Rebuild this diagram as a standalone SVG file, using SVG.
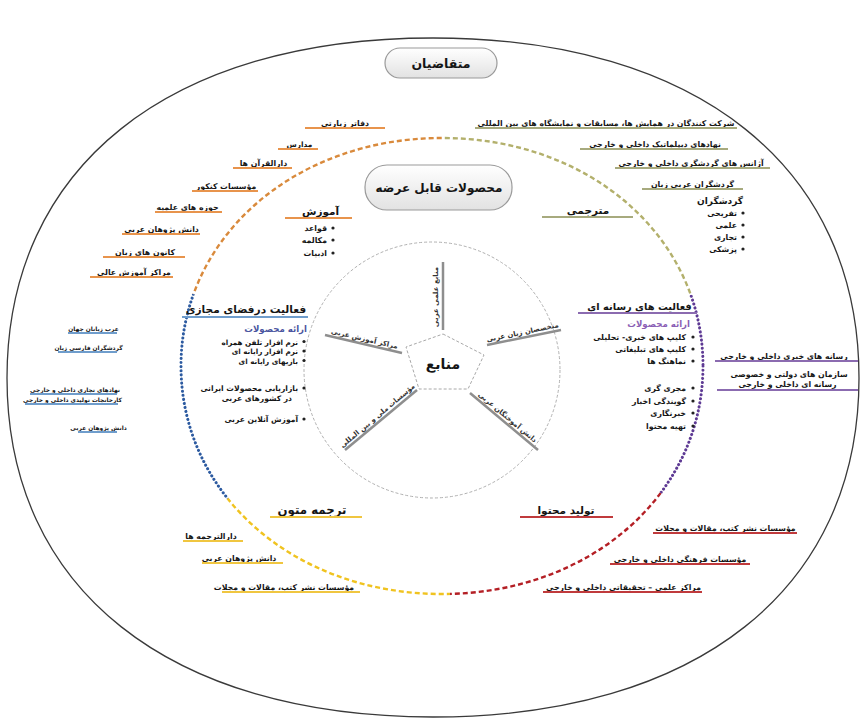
<svg xmlns="http://www.w3.org/2000/svg" width="862" height="720" viewBox="0 0 862 720">
<defs>
<linearGradient id="pill" x1="0" y1="0" x2="0" y2="1">
<stop offset="0" stop-color="#ffffff"/>
<stop offset="1" stop-color="#e2e2e2"/>
</linearGradient>
<clipPath id="cO"><polygon points="442,366 -582,70 442,-546"/></clipPath>
<clipPath id="cG"><polygon points="442,366 442,-546 1478,70"/></clipPath>
<clipPath id="cP"><polygon points="442,366 1478,70 1282,854"/></clipPath>
<clipPath id="cR"><polygon points="442,366 1282,854 474,1278"/></clipPath>
<clipPath id="cY"><polygon points="442,366 474,1278 -426,902"/></clipPath>
<clipPath id="cB"><polygon points="442,366 -426,902 -582,70"/></clipPath>
<path id="mid" d="M703,366 C703,494.8 589.5,594 442,594 C294.5,594 181,494.8 181,366 C181,237.2 294.5,138 442,138 C589.5,138 703,237.2 703,366 Z"/>
</defs>
<style>
text{font-family:'DejaVu Sans',sans-serif;fill:#151515}
.s{font-size:7.8px;font-weight:bold}
.t{font-size:5.9px;font-weight:bold}
.sp8{font-size:7px;font-weight:bold;fill:#333}
.h{font-size:10.5px;font-weight:bold}
.m{text-anchor:middle}
.e{text-anchor:end}
.ul{stroke-width:2;fill:none}
.or{stroke:#e8944c}
.ol{stroke:#a7aa7e}
.pu{stroke:#8b6bb0}
.bl{stroke:#6f9dcc}
.rd{stroke:#c03a3c}
.ye{stroke:#f0c640}
.bu{fill:#222}
.sp{stroke:#8e8e8e;stroke-width:2.5}
.pillr{fill:url(#pill);stroke:#9a9a9a;stroke-width:1.2}
</style>
<rect width="862" height="720" fill="#ffffff"/>

<g id="outer">
<path d="M859,378 C859,589 697,717 433,717 C169,717 7,589 7,378 C7,167 169,38 433,38 C697,38 859,167 859,378 Z" fill="none" stroke="#3a3a3a" stroke-width="1.3"/>
</g>

<g id="connectors">
<use href="#mid" clip-path="url(#cO)" fill="none" stroke="#d98a3c" stroke-width="2.4" stroke-dasharray="5,3"/>
<use href="#mid" clip-path="url(#cG)" fill="none" stroke="#b3b06c" stroke-width="2.4" stroke-dasharray="5,3"/>
<use href="#mid" clip-path="url(#cP)" fill="none" stroke="#5e3a94" stroke-width="3" stroke-dasharray="0.1,4" stroke-linecap="round"/>
<use href="#mid" clip-path="url(#cR)" fill="none" stroke="#b41f25" stroke-width="2.4" stroke-dasharray="5,3"/>
<use href="#mid" clip-path="url(#cY)" fill="none" stroke="#f0c320" stroke-width="2.4" stroke-dasharray="5,3"/>
<use href="#mid" clip-path="url(#cB)" fill="none" stroke="#2c5aa0" stroke-width="3" stroke-dasharray="0.1,4" stroke-linecap="round"/>
<circle cx="432" cy="370" r="128" fill="none" stroke="#b0b0b0" stroke-width="1" stroke-dasharray="3,2"/>
<line class="sp" x1="443" y1="262" x2="443" y2="330"/>
<line class="sp" x1="487" y1="345" x2="561" y2="330"/>
<line class="sp" x1="470" y1="393" x2="538" y2="450"/>
<line class="sp" x1="417" y1="390" x2="345" y2="450"/>
<line class="sp" x1="325" y1="335" x2="402" y2="353"/>
</g>

<g id="motaghazian">
<rect class="pillr" x="385" y="48" width="112" height="30" rx="15"/>
<text class="m" x="441" y="68" font-size="12.5" font-weight="bold">متقاضیان</text>
</g>

<g id="mahsoolat">
<rect class="pillr" x="365" y="165" width="147" height="45" rx="22"/>
<text class="m" x="439" y="192" font-size="12" font-weight="bold">محصولات قابل عرضه</text>
</g>

<g id="manabe">
<polygon points="443,334 484,355 468,389 419,389 406,347" fill="#ffffff" stroke="#a8a8a8" stroke-width="1" stroke-dasharray="3,2"/>
<text class="m" x="443" y="369" font-size="14" font-weight="bold">منابع</text>
</g>

<g id="spoke-labels">
<text class="m sp8" transform="translate(438,297) rotate(-90)">منابع علمی عربی</text>
<text class="m sp8" transform="translate(523,334.5) rotate(-11.5)">متخصصان زبان عربی</text>
<text class="m sp8" transform="translate(506,419) rotate(40)">دانش آموختگان عربی</text>
<text class="m sp8" transform="translate(379,417.5) rotate(-40)">مؤسسات ملی و بین المللی</text>
<text class="m sp8" transform="translate(364,341) rotate(13)">مراکز آموزش عربی</text>
</g>

<g id="amoozesh">
<text class="m h" x="320.5" y="215">آموزش</text>
<line class="ul or" x1="285" y1="218" x2="352" y2="218"/>
<circle class="bu" cx="333" cy="228" r="1.6"/><text class="s e" x="327" y="231">قواعد</text>
<circle class="bu" cx="333" cy="240" r="1.6"/><text class="s e" x="327" y="243">مکالمه</text>
<circle class="bu" cx="333" cy="253" r="1.6"/><text class="s e" x="327" y="256">ادبیات</text>
</g>

<g id="amoozesh-demand">
<text class="s m" x="345" y="125.5">دفاتر زیارتی</text>
<line class="ul or" x1="305" y1="128" x2="385" y2="128"/>
<text class="s m" x="299.5" y="146.5" style="font-size:7.4px">مدارس</text>
<line class="ul or" x1="278" y1="149" x2="318" y2="149"/>
<text class="s m" x="263.5" y="165.5">دارالقرآن ها</text>
<line class="ul or" x1="233" y1="168" x2="292" y2="168"/>
<text class="s m" x="226" y="188.5">مؤسسات کنکور</text>
<line class="ul or" x1="192" y1="191" x2="258" y2="191"/>
<text class="s m" x="187.5" y="209.5">حوزه های علمیه</text>
<line class="ul or" x1="155" y1="212" x2="222" y2="212"/>
<text class="s m" x="161.5" y="231.5">دانش پژوهان عربی</text>
<line class="ul or" x1="122" y1="234" x2="200" y2="234"/>
<text class="s m" x="145" y="254.5">کانون های زبان</text>
<line class="ul or" x1="103" y1="257" x2="185" y2="257"/>
<text class="s m" x="134" y="274.5">مراکز آموزش عالی</text>
<line class="ul or" x1="90" y1="277" x2="173" y2="277"/>
</g>

<g id="motarjemi">
<text class="m h" x="588" y="214">مترجمی</text>
<line class="ul ol" x1="542" y1="217" x2="633" y2="217"/>
</g>

<g id="motarjemi-demand">
<text class="s m" x="606" y="125.5">شرکت کنندگان در همایش ها، مسابقات و نمایشگاه های بین المللی</text>
<line class="ul ol" x1="475" y1="128" x2="737" y2="128"/>
<text class="s m" x="655" y="146.5">نهادهای دیپلماتیک  داخلی و خارجی</text>
<line class="ul ol" x1="580" y1="149" x2="728" y2="149"/>
<text class="s m" x="691" y="165.5">آژانس های گردشگری داخلی و خارجی</text>
<line class="ul ol" x1="615" y1="168" x2="770" y2="168"/>
<text class="s m" x="692.5" y="186.5">گردشگران عربی زبان</text>
<line class="ul ol" x1="642" y1="189" x2="743" y2="189"/>
<text class="e" x="743" y="203.5" font-size="9" font-weight="bold">گردشگران</text>
<circle class="bu" cx="743" cy="213" r="1.6"/><text class="s e" x="737" y="216">تفریحی</text>
<circle class="bu" cx="743" cy="225" r="1.6"/><text class="s e" x="737" y="228">علمی</text>
<circle class="bu" cx="743" cy="237" r="1.6"/><text class="s e" x="737" y="240">تجاری</text>
<circle class="bu" cx="743" cy="249" r="1.6"/><text class="s e" x="737" y="252">پزشکی</text>
</g>

<g id="resane">
<text class="m h" x="639.5" y="310" style="font-size:9.8px">فعالیت های رسانه ای</text>
<line class="ul pu" x1="578" y1="313" x2="697" y2="313"/>
<text class="e" x="690" y="327" font-size="8.6" font-weight="bold" style="fill:#8b5fb5">ارائه محصولات</text>
<circle class="bu" cx="693" cy="337" r="1.6"/><text class="s e" x="686" y="340">کلیپ های خبری- تحلیلی</text>
<circle class="bu" cx="693" cy="349" r="1.6"/><text class="s e" x="686" y="352">کلیپ های تبلیغاتی</text>
<circle class="bu" cx="693" cy="361" r="1.6"/><text class="s e" x="686" y="364">نماهنگ ها</text>
<circle class="bu" cx="693" cy="388" r="1.6"/><text class="s e" x="686" y="391">مجری گری</text>
<circle class="bu" cx="693" cy="401" r="1.6"/><text class="s e" x="686" y="404">گویندگی اخبار</text>
<circle class="bu" cx="693" cy="413" r="1.6"/><text class="s e" x="686" y="416">خبرنگاری</text>
<circle class="bu" cx="693" cy="426" r="1.6"/><text class="s e" x="686" y="429">تهیه محتوا</text>
</g>

<g id="resane-demand">
<text class="s m" x="784" y="358.5">رسانه های خبری داخلی و خارجی</text>
<line class="ul pu" x1="715" y1="361" x2="858" y2="361"/>
<text class="s m" x="789" y="377">سازمان های دولتی و خصوصی</text>
<text class="s m" x="787.5" y="387">رسانه ای داخلی و خارجی</text>
<line class="ul pu" x1="717" y1="390" x2="858" y2="390"/>
</g>

<g id="majazi">
<text class="m h" x="246" y="313" style="font-size:10.6px">فعالیت درفضای مجازی</text>
<line class="ul bl" x1="182" y1="317" x2="308" y2="317"/>
<text class="e" x="307" y="332" font-size="8.6" font-weight="bold" style="fill:#4b56a0">ارائه محصولات</text>
<circle class="bu" cx="304" cy="341.5" r="1.6"/><text class="e" font-size="7.2" font-weight="bold" x="298" y="344.5">نرم افزار تلفن همراه</text>
<circle class="bu" cx="304" cy="351" r="1.6"/><text class="e" font-size="7.2" font-weight="bold" x="298" y="354">نرم افزار رایانه ای</text>
<circle class="bu" cx="304" cy="360.5" r="1.6"/><text class="e" font-size="7.2" font-weight="bold" x="298" y="363.5">بازیهای رایانه ای</text>
<circle class="bu" cx="304" cy="388" r="1.6"/><text class="e" font-size="7.6" font-weight="bold" x="298" y="391">بازاریابی محصولات ایرانی</text>
<text class="e" font-size="7.6" font-weight="bold" x="292" y="400.5">در کشورهای عربی</text>
<circle class="bu" cx="304" cy="419" r="1.6"/><text class="e" font-size="7.6" font-weight="bold" x="298" y="422">آموزش آنلاین عربی</text>
</g>

<g id="majazi-demand">
<text class="t m" x="93.5" y="331">عرب زبانان جهان</text>
<line class="ul bl" x1="68" y1="333" x2="117" y2="333"/>
<text class="t m" x="88.5" y="350">گردشگران فارسی زبان</text>
<line class="ul bl" x1="58" y1="352" x2="117" y2="352"/>
<text class="t m" x="75" y="392">نهادهای تجاری داخلی و خارجی</text>
<line class="ul bl" x1="30" y1="394" x2="117" y2="394"/>
<text class="t m" x="72.5" y="401.5">کارخانجات تولیدی داخلی و خارجی</text>
<line class="ul bl" x1="25" y1="404" x2="118" y2="404"/>
<text class="t m" x="98.5" y="429.5">دانش پژوهان عربی</text>
<line class="ul bl" x1="78" y1="432" x2="117" y2="432"/>
</g>

<g id="tolid">
<text class="m h" x="566" y="514">تولید محتوا</text>
<line class="ul rd" x1="520" y1="517" x2="613" y2="517"/>
</g>

<g id="tolid-demand">
<text class="s m" x="725.5" y="530.5">مؤسسات نشر کتب، مقالات و مجلات</text>
<line class="ul rd" x1="653" y1="533" x2="797" y2="533"/>
<text class="s m" x="680" y="561.5">مؤسسات فرهنگی داخلی و خارجی</text>
<line class="ul rd" x1="610" y1="564" x2="750" y2="564"/>
<text class="s m" x="623.5" y="589.5">مراکز علمی – تحقیقاتی داخلی و خارجی</text>
<line class="ul rd" x1="543" y1="592" x2="702" y2="592"/>
</g>

<g id="tarjome">
<text class="m h" x="312" y="514" style="font-size:11.8px">ترجمه متون</text>
<line class="ul ye" x1="270" y1="517" x2="362" y2="517"/>
</g>

<g id="tarjome-demand">
<text class="s m" x="211" y="538.5">دارالترجمه ها</text>
<line class="ul ye" x1="183" y1="541" x2="243" y2="541"/>
<text class="s m" x="239" y="560.5">دانش پژوهان عربی</text>
<line class="ul ye" x1="202" y1="563" x2="283" y2="563"/>
<text class="s m" x="284" y="589.5">مؤسسات نشر کتب، مقالات و مجلات</text>
<line class="ul ye" x1="222" y1="592" x2="360" y2="592"/>
</g>
</svg>
